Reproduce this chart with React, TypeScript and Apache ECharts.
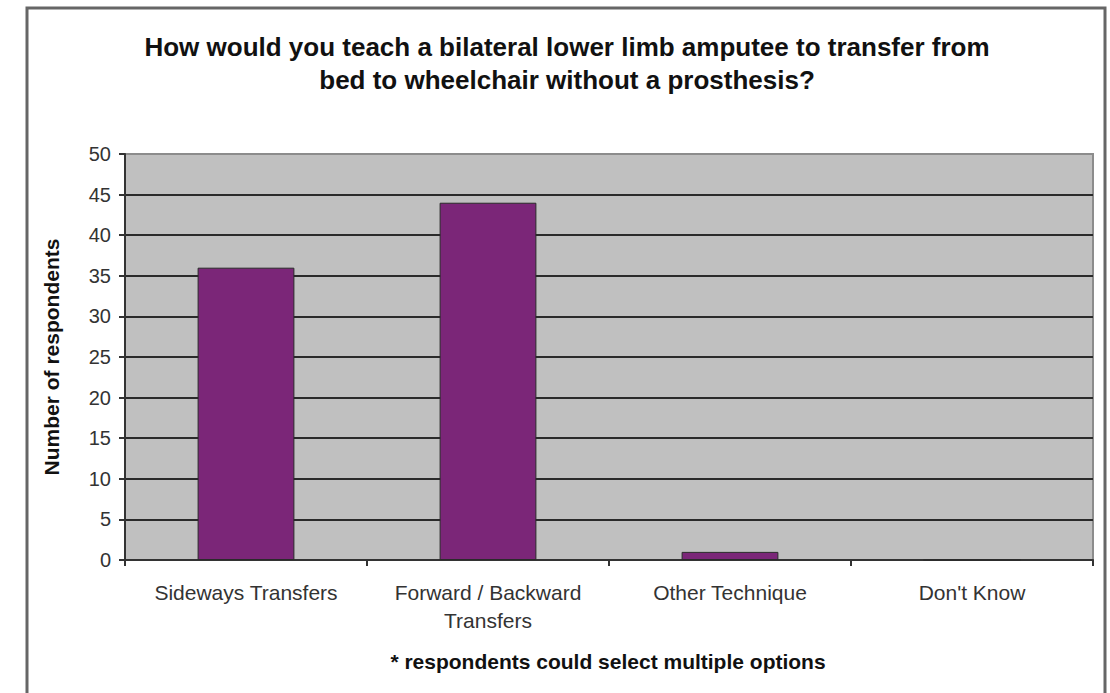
import React, { useEffect, useRef } from "react";
import * as echarts from "echarts";

const categories = [
  "Sideways Transfers",
  "Forward / Backward\nTransfers",
  "Other Technique",
  "Don't Know",
];
const respondents = [36, 44, 1, 0];
const titleLines = [
  "How would you teach a bilateral lower limb amputee to transfer from",
  "bed to wheelchair without a prosthesis?",
];
const footnote = "* respondents could select multiple options";
const yAxisName = "Number of respondents";

const FONT = "'Liberation Sans', Arial, sans-serif";

export default function App() {
  const ref = useRef<HTMLDivElement>(null);

  useEffect(() => {
    document.body.style.margin = "0";
    if (!ref.current) return;
    const chart = echarts.init(ref.current, undefined, { renderer: "svg" });
    chart.setOption({
      animation: false,
      backgroundColor: "#ffffff",
      textStyle: { fontFamily: FONT },
      graphic: [
        {
          type: "rect",
          shape: { x: 27, y: 8, width: 1078, height: 720 },
          style: { fill: "none", stroke: "#666666", lineWidth: 3 },
          z: 10,
        },
        {
          type: "text",
          x: 567,
          y: 30,
          style: {
            text: titleLines.join("\n"),
            fontFamily: FONT,
            fontSize: 26,
            fontWeight: "bold",
            fill: "#111111",
            align: "center",
            verticalAlign: "top",
            lineHeight: 33,
          },
        },
        {
          type: "text",
          x: 608,
          y: 661,
          style: {
            text: footnote,
            fontFamily: FONT,
            fontSize: 21,
            fontWeight: "bold",
            fill: "#111111",
            align: "center",
            verticalAlign: "middle",
          },
        },
      ],
      grid: {
        left: 125,
        right: 17,
        top: 154,
        bottom: 133,
        show: true,
        backgroundColor: "#c0c0c0",
        borderColor: "#8c8c8c",
        borderWidth: 2,
      },
      xAxis: {
        type: "category",
        data: categories,
        boundaryGap: true,
        axisLine: { show: true, lineStyle: { color: "#333333", width: 2 } },
        axisTick: {
          show: true,
          alignWithLabel: false,
          length: 6,
          lineStyle: { color: "#333333", width: 2 },
        },
        axisLabel: {
          color: "#333333",
          fontFamily: FONT,
          fontSize: 21,
          lineHeight: 28,
          margin: 18,
          interval: 0,
        },
        splitLine: { show: false },
      },
      yAxis: {
        type: "value",
        min: 0,
        max: 50,
        interval: 5,
        name: yAxisName,
        nameLocation: "middle",
        nameRotate: 90,
        nameGap: 63,
        nameTextStyle: {
          fontFamily: FONT,
          fontSize: 21,
          fontWeight: "bold",
          color: "#111111",
        },
        axisLine: { show: true, lineStyle: { color: "#333333", width: 2 } },
        axisTick: {
          show: true,
          length: 6,
          lineStyle: { color: "#333333", width: 2 },
        },
        axisLabel: {
          color: "#333333",
          fontFamily: FONT,
          fontSize: 20,
          margin: 14,
        },
        splitLine: {
          show: true,
          showMaxLine: false,
          lineStyle: { color: "#2a2a2a", width: 2 },
        },
      },
      series: [
        {
          type: "bar",
          data: respondents,
          barWidth: "40%",
          itemStyle: {
            color: "#7b2678",
            borderColor: "#2a2a2a",
            borderWidth: 1,
          },
        },
      ],
    });
    return () => chart.dispose();
  }, []);

  return <div ref={ref} style={{ width: 1110, height: 693 }} />;
}
